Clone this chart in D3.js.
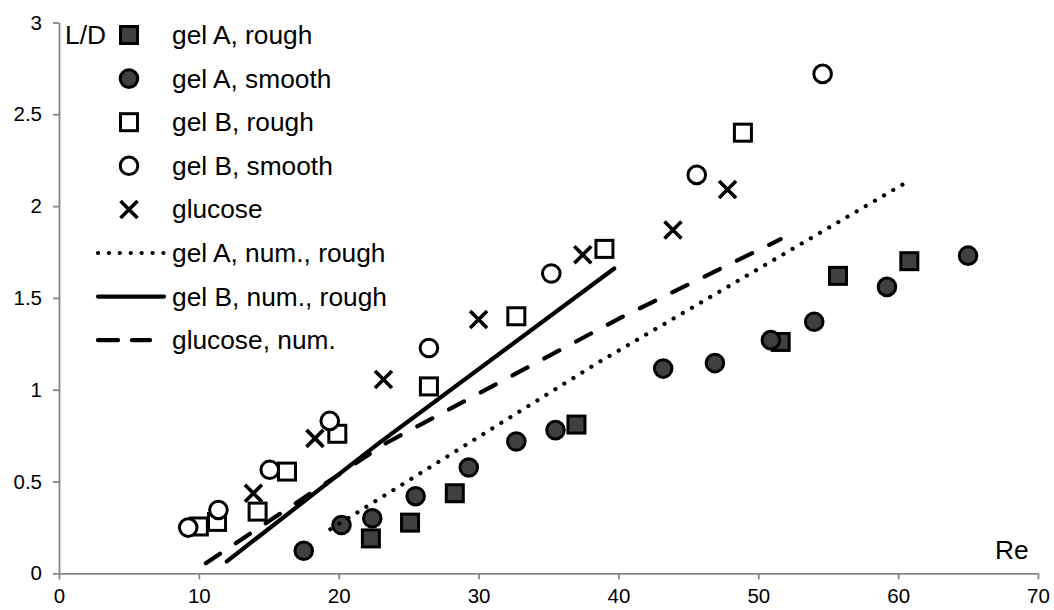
<!DOCTYPE html>
<html>
<head>
<meta charset="utf-8">
<script src="https://cdn.jsdelivr.net/npm/d3@7"></script>
<style>
  html, body { margin: 0; padding: 0; background: #fff; }
  svg { display: block; font-family: "Liberation Sans", Arial, sans-serif; }
</style>
</head>
<body>
<svg id="chart" width="1054" height="610"></svg>
<script>
// ---- data ----
const xTicks = [0, 10, 20, 30, 40, 50, 60, 70];
const yTicks = [0, 0.5, 1, 1.5, 2, 2.5, 3];
const yTickLabels = ["0", "0.5", "1", "1.5", "2", "2.5", "3"];

const gelARoughRe = [22.3, 25.1, 28.3, 37.0, 51.6, 55.7, 60.8];
const gelARoughLD = [0.19, 0.276, 0.436, 0.81, 1.26, 1.62, 1.70];

const gelASmoothRe = [17.5, 20.2, 22.4, 25.5, 29.3, 32.7, 35.5, 43.2, 46.9, 50.9, 54.0, 59.2, 65.0];
const gelASmoothLD = [0.123, 0.263, 0.30, 0.42, 0.576, 0.718, 0.78, 1.115, 1.145, 1.27, 1.37, 1.56, 1.73];

const gelBRoughRe = [10.0, 11.3, 14.2, 16.3, 19.9, 26.45, 32.7, 39.0, 48.9];
const gelBRoughLD = [0.255, 0.28, 0.336, 0.554, 0.76, 1.018, 1.40, 1.767, 2.40];

const gelBSmoothRe = [9.24, 11.4, 15.07, 19.36, 26.45, 35.2, 45.6, 54.6];
const gelBSmoothLD = [0.249, 0.345, 0.564, 0.83, 1.227, 1.633, 2.17, 2.72];

const glucoseRe = [13.9, 18.3, 23.2, 30.0, 37.45, 43.9, 47.8];
const glucoseLD = [0.436, 0.735, 1.055, 1.382, 1.735, 1.87, 2.09];

const gelANumRe = [19.4, 38.6, 60.6];
const gelANumLD = [0.24, 1.15, 2.13];

const gelBNumRe = [12.0, 22.9, 39.7];
const gelBNumLD = [0.065, 0.71, 1.66];

const glucoseNumRe = [10.5, 23.4, 40.1, 51.6];
const glucoseNumLD = [0.055, 0.71, 1.39, 1.82];

const legendLabels = ["gel A, rough", "gel A, smooth", "gel B, rough", "gel B, smooth",
                      "glucose", "gel A, num., rough", "gel B, num., rough", "glucose, num."];

// ---- drawing ----
const svg = d3.select("#chart");
const axisColor = "#868686";
const darkFill = "#404040";
const bigFont = 26.3;

const x = d3.scaleLinear().domain([0, 70]).range([59, 1038]);
const y = d3.scaleLinear().domain([0, 3]).range([573.3, 22.5]);

// axes
const xAxis = d3.axisBottom(x).tickValues(xTicks).tickSize(6).tickSizeOuter(0).tickPadding(6);
const gx = svg.append("g").attr("transform", `translate(0,${y(0)})`).call(xAxis);
gx.select(".domain").attr("stroke", axisColor).attr("stroke-width", 1.8);
gx.selectAll(".tick line").attr("stroke", axisColor).attr("stroke-width", 1.8);
gx.selectAll(".tick text").attr("font-size", 20.5).attr("fill", "#000")
  .attr("font-family", "'Liberation Sans', Arial, sans-serif")
  .attr("y", 15).attr("dy", "0.71em");

const yAxis = d3.axisLeft(y).tickValues(yTicks).tickFormat((d, i) => yTickLabels[i])
  .tickSize(6).tickSizeOuter(0).tickPadding(11);
const gy = svg.append("g").attr("transform", `translate(${x(0)},0)`).call(yAxis);
gy.select(".domain").attr("stroke", axisColor).attr("stroke-width", 1.8);
gy.selectAll(".tick line").attr("stroke", axisColor).attr("stroke-width", 1.8);
gy.selectAll(".tick text").attr("font-size", 20.5).attr("fill", "#000")
  .attr("font-family", "'Liberation Sans', Arial, sans-serif");

// axis titles
svg.append("text").attr("x", 995).attr("y", 559).attr("font-size", bigFont).attr("fill", "#000").text("Re");
svg.append("text").attr("x", 65).attr("y", 44).attr("font-size", bigFont).attr("fill", "#000").text("L/D");

// marker helpers
const sq = 17, cr = 8.8, sw = 3;
function drawSquare(g, cx, cy, fill) {
  g.append("rect").attr("x", cx - sq / 2).attr("y", cy - sq / 2).attr("width", sq).attr("height", sq)
    .attr("fill", fill).attr("stroke", "#000").attr("stroke-width", sw);
}
function drawCircle(g, cx, cy, fill) {
  g.append("circle").attr("cx", cx).attr("cy", cy).attr("r", cr)
    .attr("fill", fill).attr("stroke", "#000").attr("stroke-width", sw);
}
function drawCross(g, cx, cy) {
  const h = 8.5;
  g.append("path").attr("d", `M${cx - h},${cy - h}L${cx + h},${cy + h}M${cx - h},${cy + h}L${cx + h},${cy - h}`)
    .attr("stroke", "#000").attr("stroke-width", 3.6).attr("fill", "none");
}

const pts = (xs, ys) => xs.map((v, i) => [v, ys[i]]);
const marks = svg.append("g");

pts(gelARoughRe, gelARoughLD).forEach(d => drawSquare(marks, x(d[0]), y(d[1]), darkFill));
pts(gelASmoothRe, gelASmoothLD).forEach(d => drawCircle(marks, x(d[0]), y(d[1]), darkFill));
pts(gelBRoughRe, gelBRoughLD).forEach(d => drawSquare(marks, x(d[0]), y(d[1]), "#fff"));
pts(gelBSmoothRe, gelBSmoothLD).forEach(d => drawCircle(marks, x(d[0]), y(d[1]), "#fff"));
pts(glucoseRe, glucoseLD).forEach(d => drawCross(marks, x(d[0]), y(d[1])));

// lines
const line = d3.line().x(d => x(d[0])).y(d => y(d[1]));
const lineStyles = [
  { data: pts(gelANumRe, gelANumLD), dash: "0.1,10.5", width: 4.2 },
  { data: pts(gelBNumRe, gelBNumLD), dash: null, width: 4.2 },
  { data: pts(glucoseNumRe, glucoseNumLD), dash: "17,19", width: 4.2 }
];
lineStyles.forEach(s => {
  const p = svg.append("path").attr("d", line(s.data)).attr("fill", "none")
    .attr("stroke", "#000").attr("stroke-width", s.width).attr("stroke-linecap", "round");
  if (s.dash) p.attr("stroke-dasharray", s.dash);
});

// legend
const legendY0 = 35, legendDY = 43.6, legendTextX = 172, legendMarkX = 129;
const lg = svg.append("g");
legendLabels.forEach((lab, i) => {
  const cy = legendY0 + i * legendDY;
  lg.append("text").attr("x", legendTextX).attr("y", cy + 9).attr("font-size", bigFont)
    .attr("fill", "#000").text(lab);
  if (i === 0) drawSquare(lg, legendMarkX, cy, darkFill);
  if (i === 1) drawCircle(lg, legendMarkX, cy, darkFill);
  if (i === 2) drawSquare(lg, legendMarkX, cy, "#fff");
  if (i === 3) drawCircle(lg, legendMarkX, cy, "#fff");
  if (i === 4) drawCross(lg, legendMarkX, cy);
  if (i >= 5) {
    const st = lineStyles[i - 5];
    const l = lg.append("line").attr("x1", 98).attr("x2", i === 7 ? 150 : 164)
      .attr("y1", cy).attr("y2", cy).attr("stroke", "#000").attr("stroke-width", st.width)
      .attr("stroke-linecap", "round");
    if (i === 5) l.attr("stroke-dasharray", "0.1,10.8");
    if (i === 7) l.attr("stroke-dasharray", "20,14");
  }
});
</script>
</body>
</html>
